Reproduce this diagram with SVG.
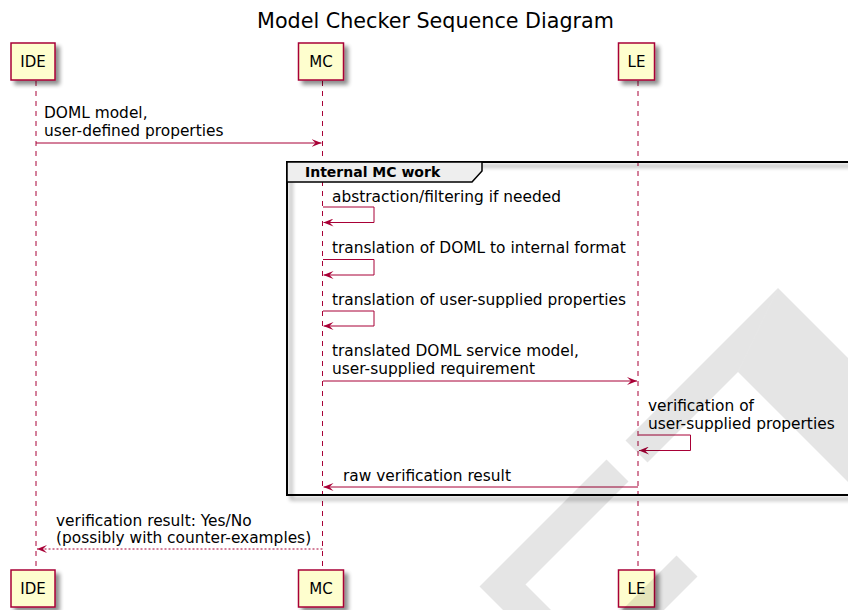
<svg xmlns="http://www.w3.org/2000/svg" width="848" height="610" viewBox="0 0 848 610">
<defs>
<filter id="sh" x="-20%" y="-20%" width="150%" height="150%">
<feGaussianBlur in="SourceAlpha" stdDeviation="2"/>
<feOffset dx="4" dy="4" result="b"/>
<feComponentTransfer><feFuncA type="linear" slope="0.45"/></feComponentTransfer>
<feMerge><feMergeNode/><feMergeNode in="SourceGraphic"/></feMerge>
</filter>
<marker id="ah" viewBox="0 0 10 8" refX="10" refY="4" markerWidth="10" markerHeight="8" markerUnits="userSpaceOnUse" orient="auto">
<path d="M0,0 L10,4 L0,8 L4,4 Z" fill="#A80036"/>
</marker>
</defs>
<style>
.box{fill:#FEFECE;stroke:#A80036;stroke-width:1.5}
.pt{font-family:"DejaVu Sans",sans-serif;font-size:15px;fill:#000;text-anchor:middle}
.life{stroke:#A80036;stroke-width:1;stroke-dasharray:5,5;fill:none}
.msg{stroke:#A80036;stroke-width:1;fill:none;marker-end:url(#ah)}
.ret{stroke:#A80036;stroke-width:1;fill:none;stroke-dasharray:2,2;marker-end:url(#ah)}
.mt{font-family:"DejaVu Sans",sans-serif;font-size:15.4px;fill:#000}
.wm{fill:#000;fill-opacity:0.1}
</style>
<rect width="848" height="610" fill="#fff"/>
<text x="435.5" y="28" font-family="DejaVu Sans,sans-serif" font-size="20.7" text-anchor="middle" fill="#000">Model Checker Sequence Diagram</text>

<g id="lifelines">
<line class="life" x1="36" y1="81" x2="36" y2="570"/>
<line class="life" x1="322.5" y1="81" x2="322.5" y2="570"/>
<line class="life" x1="638" y1="81" x2="638" y2="570"/>
</g>

<g id="frame-internal">
<rect x="287" y="162" width="600" height="333" fill="none" stroke="#000" stroke-width="2" filter="url(#sh)"/>
<path d="M287,162 L482,162 L482,171 L472,182 L287,182 Z" fill="#EEEEEE" stroke="#000" stroke-width="1.5"/>
<text x="305" y="177" font-family="DejaVu Sans,sans-serif" font-size="14" font-weight="bold" fill="#000">Internal MC work</text>
</g>

<g id="IDE-top"><rect class="box" x="11" y="43" width="44" height="37" filter="url(#sh)"/><text class="pt" x="33" y="67">IDE</text></g>
<g id="MC-top"><rect class="box" x="298.5" y="43" width="45" height="37" filter="url(#sh)"/><text class="pt" x="321" y="67">MC</text></g>
<g id="LE-top"><rect class="box" x="618.5" y="43" width="36" height="37" filter="url(#sh)"/><text class="pt" x="636.5" y="67">LE</text></g>
<g id="IDE-bottom"><rect class="box" x="11" y="570" width="44" height="37" filter="url(#sh)"/><text class="pt" x="33" y="594">IDE</text></g>
<g id="MC-bottom"><rect class="box" x="298.5" y="570" width="45" height="37" filter="url(#sh)"/><text class="pt" x="321" y="594">MC</text></g>
<g id="LE-bottom"><rect class="box" x="618.5" y="570" width="36" height="37" filter="url(#sh)"/><text class="pt" x="636.5" y="594">LE</text></g>

<g id="connectors">
<line class="msg" x1="36" y1="143" x2="321.5" y2="143"/>
<polyline class="msg" points="323,207 374,207 374,222.5 323.5,222.5"/>
<polyline class="msg" points="323,259.5 374,259.5 374,275 323.5,275"/>
<polyline class="msg" points="323,311 374,311 374,326 323.5,326"/>
<line class="msg" x1="323" y1="381" x2="637" y2="381"/>
<polyline class="msg" points="638.5,435 690.5,435 690.5,450.5 639,450.5"/>
<line class="msg" x1="638" y1="487" x2="323.5" y2="487"/>
<line class="ret" x1="322.5" y1="549" x2="37" y2="549"/>
</g>

<g id="labels">
<text class="mt" x="44" y="118">DOML model,</text>
<text class="mt" x="44" y="136">user-defined properties</text>
<text class="mt" x="332" y="202">abstraction/filtering if needed</text>
<text class="mt" x="332" y="253">translation of DOML to internal format</text>
<text class="mt" x="332" y="305">translation of user-supplied properties</text>
<text class="mt" x="332" y="356">translated DOML service model,</text>
<text class="mt" x="332" y="374">user-supplied requirement</text>
<text class="mt" x="648" y="411">verification of</text>
<text class="mt" x="648" y="429">user-supplied properties</text>
<text class="mt" x="343" y="481">raw verification result</text>
<text class="mt" x="56" y="526">verification result: Yes/No</text>
<text class="mt" x="56" y="543">(possibly with counter-examples)</text>
</g>

<g id="watermark">
<polygon class="wm" points="778,288 625.5,440.5 647.5,462.5 738,372"/>
<polygon class="wm" points="778,288 900,410 900,534 738,372"/>
<polygon class="wm" points="606.5,459.5 479.5,586.5 513,620 561,620 525.5,584.5 628.5,481.5"/>
<polygon class="wm" points="676.5,555.5 697.5,576.5 654,620 612,620"/>
</g>
</svg>
